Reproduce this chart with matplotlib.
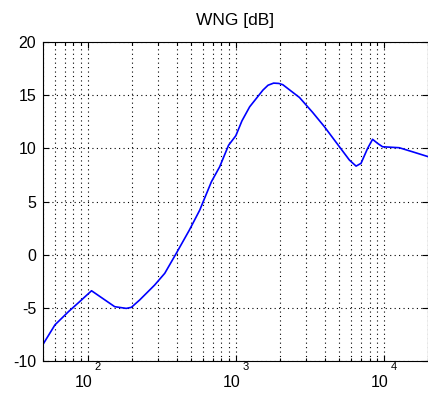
import numpy as np
import matplotlib
matplotlib.use('Agg')
import matplotlib.pyplot as plt

plt.rcParams['font.family'] = ['Liberation Sans', 'DejaVu Sans']

# frequency [Hz] and white noise gain [dB]
freq = [50, 60, 74, 88, 106, 152, 182, 197, 224, 283, 331, 396, 485, 570,
        684, 778, 893, 1000, 1100, 1240, 1524, 1650, 1800, 1950, 2077, 2690,
        3300, 3970, 5010, 5850, 6490, 7010, 7760, 8390, 9070, 9800, 12700,
        15600, 20000]
wng = [-8.4, -6.6, -5.36, -4.42, -3.39, -4.89, -5.05, -4.95, -4.26, -2.85,
       -1.75, 0.13, 2.31, 4.19, 6.87, 8.28, 10.3, 11.2, 12.6, 13.92, 15.49,
       15.95, 16.15, 16.12, 16.0, 14.8, 13.4, 12.04, 10.16, 8.91, 8.34, 8.6,
       10.0, 10.86, 10.48, 10.16, 10.07, 9.69, 9.22]

xtick_pos = [100, 1000, 10000]
xtick_exp = ['2', '3', '4']
yticks = [-10, -5, 0, 5, 10, 15, 20]

fig = plt.figure(figsize=(4.28, 3.97), dpi=100)
ax = fig.add_axes([0.101, 0.0907, 0.900, 0.803])

ax.semilogx(freq, wng, color='#0000ff', linewidth=1.2)
ax.set_xlim(50, 20000)
ax.set_ylim(-10, 20)
ax.set_yticks(yticks)
ax.set_yticklabels([str(v) for v in yticks], fontsize=11.5)

ax.set_xticks(xtick_pos)
ax.set_xticklabels(['', '', ''])
for xp, e in zip(xtick_pos, xtick_exp):
    ax.annotate('10', xy=(xp, 0), xycoords=('data', 'axes fraction'),
                xytext=(-4, -22), textcoords='offset pixels',
                ha='center', va='center', fontsize=11.5)
    ax.annotate(e, xy=(xp, 0), xycoords=('data', 'axes fraction'),
                xytext=(10, -6), textcoords='offset pixels',
                ha='center', va='center', fontsize=8)

ax.grid(True, which='major', linestyle=(0, (1, 3)), color='black', linewidth=0.8)
ax.grid(True, which='minor', axis='x', linestyle=(0, (1, 3)), color='black', linewidth=0.8)
ax.tick_params(which='both', direction='in', top=True, right=True, length=4, width=0.8)
ax.tick_params(which='minor', length=2.5)
ax.tick_params(axis='y', pad=5)
ax.minorticks_on()
ax.yaxis.set_minor_locator(matplotlib.ticker.NullLocator())

fig.text(0.55, 1 - 21 / 397, 'WNG [dB]', ha='center', va='center', fontsize=12.5)

fig.savefig('out.png', dpi=100, facecolor='white')
